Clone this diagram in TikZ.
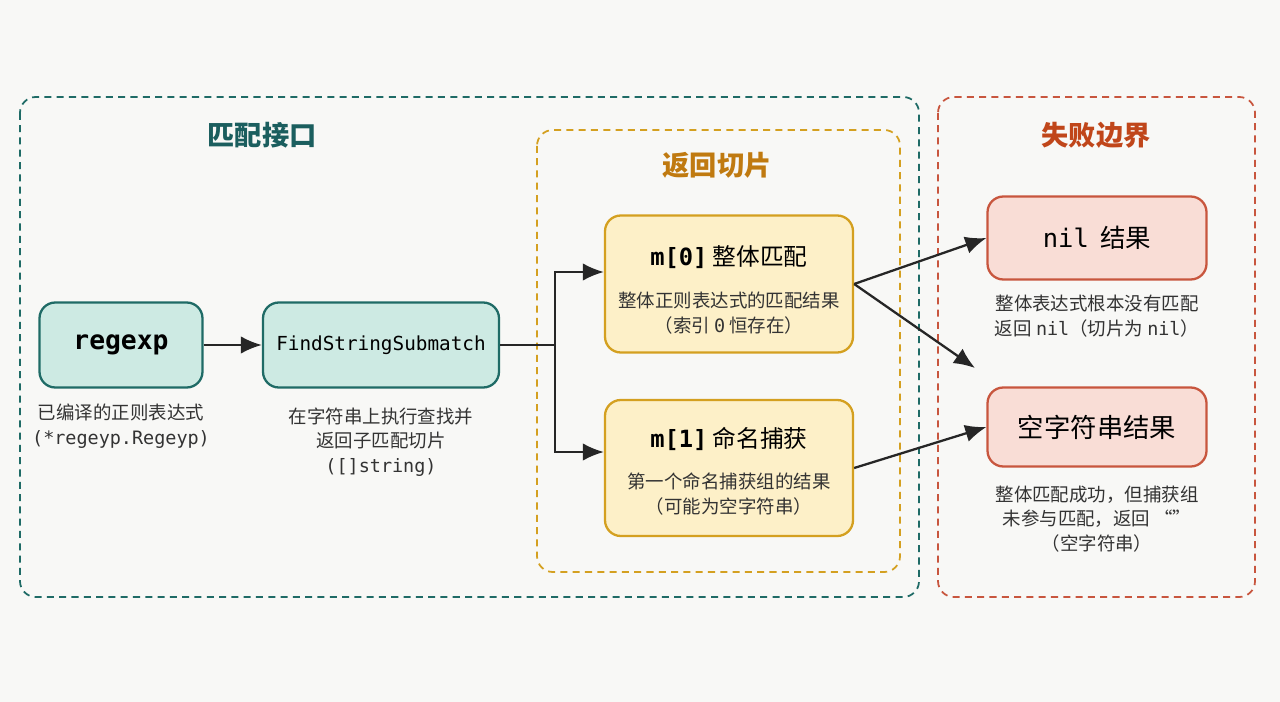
\documentclass[tikz,border=0pt]{standalone}
\usepackage{fontspec}
\setmainfont{Noto Sans CJK SC}
\setmonofont{DejaVu Sans Mono}
\usepackage{tikz}
\usetikzlibrary{arrows.meta}
\definecolor{bgc}{HTML}{F8F8F6}
\definecolor{tealfill}{HTML}{CDEAE3}
\definecolor{tealline}{HTML}{1F6B66}
\definecolor{yelfill}{HTML}{FDF0C8}
\definecolor{yelline}{HTML}{D4A020}
\definecolor{redfill}{HTML}{F9DDD6}
\definecolor{redline}{HTML}{C8563E}
\definecolor{tealtitle}{HTML}{1B5E5E}
\definecolor{yeltitle}{HTML}{C07A10}
\definecolor{redtitle}{HTML}{C0461A}
\tikzset{
  box/.style={rounded corners=9pt,line width=1.3pt,anchor=center},
  tealbox/.style={box,fill=tealfill,draw=tealline},
  yelbox/.style={box,fill=yelfill,draw=yelline},
  redbox/.style={box,fill=redfill,draw=redline},
  group/.style={rounded corners=9pt,line width=1pt,dashed,dash pattern=on 4pt off 3pt},
  note/.style={font=\fontsize{10.5pt}{13pt}\selectfont,text=black!80,align=center},
  title/.style={font=\fontsize{15.5pt}{18pt}\selectfont\bfseries},
  arr/.style={line width=1.3pt,-{Latex[length=12pt,width=10pt]},black!85}
}
\begin{document}
\begin{tikzpicture}[x=0.02cm,y=-0.02cm]
  \fill[bgc] (0,0) rectangle (1280,702);
  \useasboundingbox (0,0) rectangle (1280,702);
  % groups
  \draw[group,draw=tealline] (20,97) rectangle (919,597);
  \draw[group,draw=yelline] (537,130) rectangle (900,572);
  \draw[group,draw=redline] (938,97) rectangle (1255,597);
  \node[title,text=tealtitle] (t1) at (262,135) {匹配接口};
  \node[title,text=yeltitle] (t2) at (717,165) {返回切片};
  \node[title,text=redtitle] (t3) at (1096,135) {失败边界};
  % nodes
  \node[tealbox,minimum width=163*0.02cm,minimum height=85*0.02cm,font=\ttfamily\bfseries\fontsize{15pt}{17pt}\selectfont] (re) at (121,345) {regexp};
  \node[tealbox,minimum width=236*0.02cm,minimum height=85*0.02cm,font=\ttfamily\fontsize{11pt}{13pt}\selectfont] (fs) at (381,345) {FindStringSubmatch};
  \node[yelbox,minimum width=248*0.02cm,minimum height=137*0.02cm] (m0) at (729,284) {};
  \node[yelbox,minimum width=248*0.02cm,minimum height=136*0.02cm] (m1) at (729,468) {};
  \node[redbox,minimum width=219*0.02cm,minimum height=83*0.02cm,font=\fontsize{14.5pt}{17pt}\selectfont] (nil) at (1097,238) {{\ttfamily nil}\ \ 结果};
  \node[redbox,minimum width=219*0.02cm,minimum height=79*0.02cm,font=\fontsize{15pt}{17pt}\selectfont] (emp) at (1097,427) {空字符串结果};
  % texts in the yellow boxes
  \node[font=\fontsize{13.5pt}{16pt}\selectfont] (m0t) at (729,257) {{\ttfamily\bfseries m[0]}\ 整体匹配};
  \node[note] (m0c) at (729,313) {整体正则表达式的匹配结果\\[1pt]（索引 {\ttfamily 0} 恒存在）};
  \node[font=\fontsize{13.5pt}{16pt}\selectfont] (m1t) at (729,439) {{\ttfamily\bfseries m[1]}\ 命名捕获};
  \node[note] (m1c) at (729,494) {第一个命名捕获组的结果\\[1pt]（可能为空字符串）};
  % captions
  \node[note] (rec) at (121,426) {已编译的正则表达式\\[1pt]{\ttfamily (*regeyp.Regeyp)}};
  \node[note] (fsc) at (381,442) {在字符串上执行查找并\\[1pt]返回子匹配切片\\[1pt]{\ttfamily ([]string)}};
  \node[note] (nilc) at (1097,316) {整体表达式根本没有匹配\\[1pt]返回 {\ttfamily nil}（切片为 {\ttfamily nil}）};
  \node[note] (empc) at (1097,519) {整体匹配成功，但捕获组\\[1pt]未参与匹配，返回 “”\\[1pt]（空字符串）};
  % connectors
  \coordinate (split) at (555,345);
  \coordinate (miss) at (975,368);
  \draw[arr] (re) -- (fs);
  \draw[line width=1.3pt,black!85] (fs.east) -- (split);
  \draw[arr] (split) |- (m0.west |- 0,272);
  \draw[arr] (split) |- (m1.west |- 0,452);
  \draw[arr] (m0.east) -- (nil.west);
  \draw[arr] (m0.east) -- (miss);
  \draw[arr] (m1.east) -- (emp.west);
\end{tikzpicture}
\end{document}
